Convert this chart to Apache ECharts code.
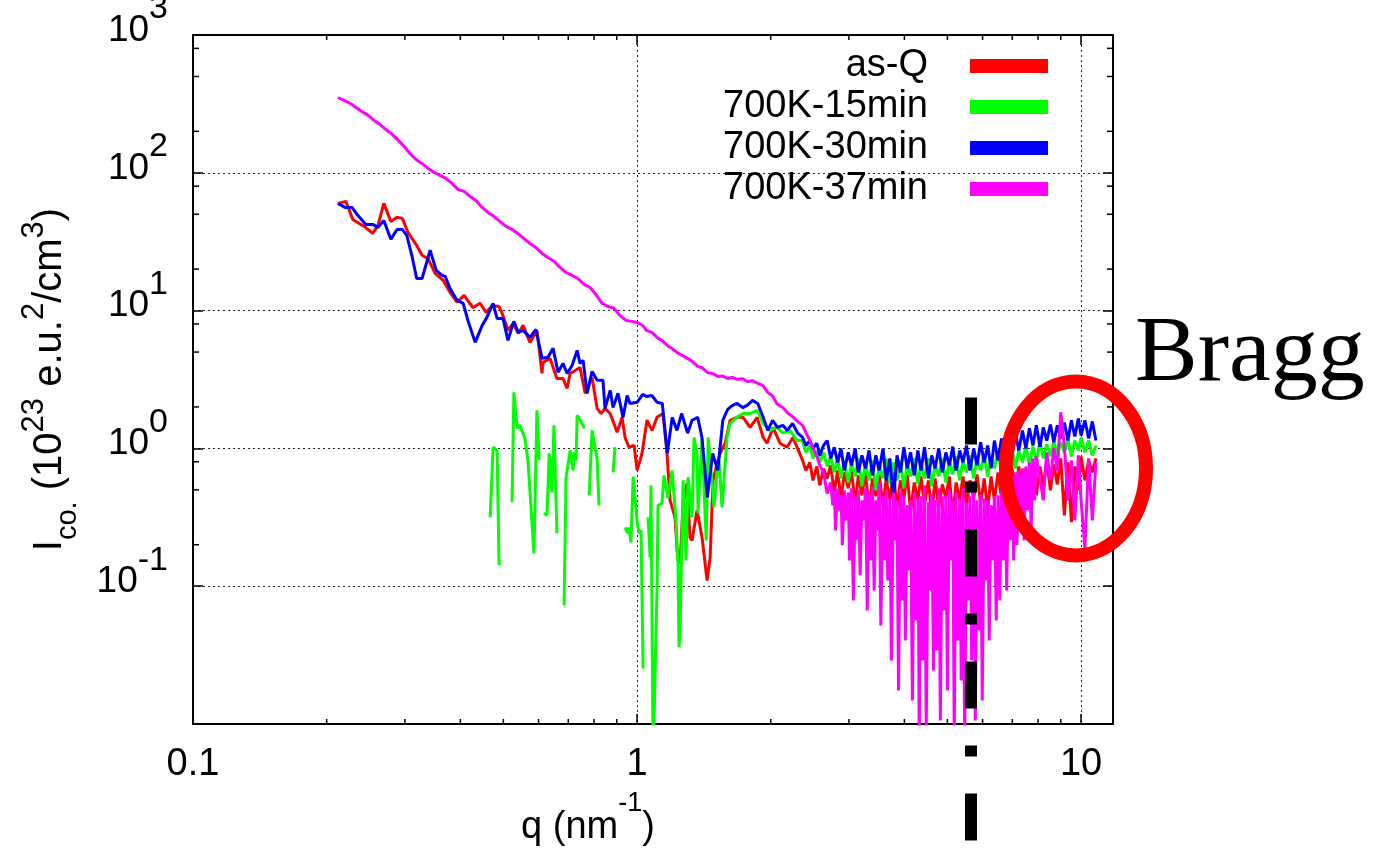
<!DOCTYPE html>
<html>
<head>
<meta charset="utf-8">
<script src="https://cdn.jsdelivr.net/npm/echarts@6/dist/echarts.min.js"></script>
<style>
  html, body { margin: 0; padding: 0; background: #ffffff; }
  #chart { width: 1381px; height: 855px; }
</style>
</head>
<body>
<div id="chart"></div>
<script>
// ---- series names and colours ----
const seriesNames = ['as-Q', '700K-15min', '700K-30min', '700K-37min'];
const seriesColors = ['#ff0000', '#00ff00', '#0000ff', '#ff00ff'];

// ---- axis ticks ----
const xMinorTicks = [0.2, 0.3, 0.4, 0.5, 0.6, 0.7, 0.8, 0.9, 2, 3, 4, 5, 6, 7, 8, 9];
const yMinorTicks = [0.2, 0.5, 0.8, 2, 5, 8, 20, 50, 80, 200, 500, 800];

// ---- shared dense q grid at large q (nm^-1) ----
const qDense = [2.36, 2.40, 2.45, 2.49, 2.54, 2.58, 2.63, 2.68, 2.73, 2.78, 2.83, 2.88, 2.93, 2.99, 3.04, 3.10, 3.15, 3.21, 3.27, 3.33,
  3.39, 3.45, 3.51, 3.58, 3.64, 3.71, 3.78, 3.85, 3.92, 3.99, 4.06, 4.13, 4.21, 4.29, 4.36, 4.44, 4.53, 4.61, 4.69, 4.78,
  4.87, 4.96, 5.05, 5.14, 5.23, 5.33, 5.42, 5.52, 5.62, 5.73, 5.83, 5.94, 6.05, 6.16, 6.27, 6.38, 6.50, 6.62, 6.74, 6.86,
  6.99, 7.11, 7.24, 7.38, 7.51, 7.65, 7.79, 7.93, 8.08, 8.22, 8.37, 8.53, 8.68, 8.84, 9.00, 9.17, 9.34, 9.51, 9.68, 9.86,
  10.0, 10.2, 10.4, 10.6, 10.8];

// ---- as-Q ----
const qAsQ = [0.212, 0.221, 0.229, 0.243, 0.254, 0.261, 0.269, 0.279, 0.288, 0.296, 0.305, 0.319, 0.328, 0.338, 0.351, 0.366, 0.379, 0.393, 0.408, 0.427,
  0.443, 0.457, 0.472, 0.489, 0.497, 0.512, 0.526, 0.540, 0.554, 0.574, 0.595, 0.611, 0.614, 0.637, 0.660, 0.681, 0.696, 0.707, 0.744, 0.764,
  0.792, 0.813, 0.830, 0.847, 0.870, 0.902, 0.925, 0.940, 0.959, 0.985, 1.000, 1.016, 1.026, 1.053, 1.081, 1.109, 1.144, 1.168, 1.187, 1.218,
  1.231, 1.250, 1.270, 1.296, 1.316, 1.330, 1.365, 1.401, 1.438, 1.461, 1.483, 1.515, 1.538, 1.579, 1.620, 1.678, 1.733, 1.797, 1.864, 1.923,
  1.963, 2.025, 2.099, 2.176, 2.245];
const iAsQ = [60.0, 62.0, 45.9, 40.8, 36.3, 41.5, 60.0, 44.4, 47.5, 46.7, 36.9, 29.7, 25.2, 23.9, 18.6, 16.6, 13.6, 11.5, 12.9, 10.5,
  11.3, 9.70, 10.9, 10.7, 9.54, 7.18, 8.07, 6.83, 7.81, 5.88, 7.18, 3.50, 4.21, 4.50, 3.22, 3.22, 2.73, 3.50, 3.87, 2.51,
  3.27, 1.95, 1.79, 1.95, 1.79, 1.31, 1.68, 1.20, 1.02, 1.05, 0.692, 0.818, 0.920, 1.60, 1.35, 1.68, 1.79, 0.920, 0.420, 0.316,
  0.182, 0.146, 0.399, 0.557, 0.226, 0.215, 0.355, 0.226, 0.110, 0.162, 0.586, 0.778, 0.920, 1.09, 1.60, 1.68, 1.68, 1.42, 1.68, 1.20,
  1.09, 1.42, 1.09, 1.02, 1.20];
const iAsQDense = [0.818, 0.692, 0.791, 0.586, 0.740, 0.539, 0.716, 0.606, 0.753, 0.479, 0.692, 0.420, 0.670, 0.513, 0.692, 0.386, 0.637, 0.456, 0.670, 0.355,
  0.606, 0.449, 0.648, 0.386, 0.606, 0.420, 0.670, 0.367, 0.586, 0.434, 0.648, 0.343, 0.566, 0.420, 0.626, 0.386, 0.586, 0.327, 0.606, 0.367,
  0.548, 0.434, 0.626, 0.321, 0.566, 0.420, 0.626, 0.380, 0.586, 0.434, 0.648, 0.393, 0.606, 0.355, 0.626, 0.420, 0.670, 0.434, 0.692, 0.464,
  0.716, 0.479, 0.740, 0.449, 0.716, 0.513, 0.791, 0.456, 0.740, 0.530, 0.818, 0.496, 0.765, 0.548, 0.846, 0.327, 0.791, 0.291, 0.740, 0.496,
  0.875, 0.586, 0.818, 0.670, 0.846];

// ---- 700K-15min (null = no positive value, line broken) ----
const qT15 = [0.467, 0.474, 0.484, 0.489, 0.505, 0.523, 0.528, 0.537, 0.545, 0.559, 0.568, 0.586, 0.595, 0.602, 0.608, 0.617, 0.627, 0.634, 0.643, 0.650,
  0.660, 0.672, 0.685, 0.692, 0.707, 0.718, 0.721, 0.729, 0.733, 0.752, 0.760, 0.770, 0.780, 0.792, 0.813, 0.821, 0.850, 0.883, 0.892, 0.915,
  0.940, 0.954, 0.959, 0.969, 0.980, 1.000, 1.010, 1.021, 1.032, 1.045, 1.059, 1.070, 1.075, 1.087, 1.109, 1.115, 1.138, 1.150, 1.174, 1.199,
  1.224, 1.237, 1.243, 1.250, 1.270, 1.289, 1.303, 1.330, 1.344, 1.365, 1.372, 1.401, 1.431, 1.446, 1.468, 1.491, 1.515, 1.530, 1.554, 1.595,
  1.620, 1.678, 1.733, 1.797, 1.864, 1.923, 1.994, 2.067, 2.132, 2.210, 2.292];
const iT15 = [0.316, 1.02, 0.967, 0.142, null, 0.406, 2.55, 1.40, 1.47, 1.18, 0.818, 0.173, 1.89, 0.818, null, 0.338, 0.327, 0.920, 0.479, 1.47,
  0.242, null, 0.0726, 0.616, 0.967, 0.692, 0.935, 0.818, 1.74, 1.52, 1.40, null, 0.456, 1.35, 0.846, 0.386, null, 0.670, 1.02, null,
  0.267, 0.242, 0.267, 0.208, 0.626, 0.300, 0.242, 0.254, 0.0253, null, 0.316, 0.162, 0.539, 0.00544, 0.0932, 0.386, 0.399, 0.637, 0.434, 0.692,
  0.300, 0.137, 0.0360, 0.0502, 0.586, 0.154, 0.616, 0.316, 1.20, 0.920, 0.338, 1.20, 0.215, 1.20, 0.692, 0.373, 0.692, 0.818, 0.373, 1.20,
  1.52, 1.68, 1.79, 1.79, 1.89, 1.52, 1.35, 1.42, 1.29, 1.35, 1.14];
const iT15Dense = [1.14, 0.935, 1.05, 0.846, 0.967, 0.791, 0.935, 0.740, 0.875, 0.670, 0.846, 0.606, 0.818, 0.566, 0.791, 0.626, 0.846, 0.530, 0.791, 0.586,
  0.818, 0.496, 0.753, 0.606, 0.846, 0.548, 0.791, 0.586, 0.818, 0.513, 0.778, 0.626, 0.846, 0.548, 0.791, 0.606, 0.846, 0.530, 0.765, 0.626,
  0.846, 0.566, 0.818, 0.648, 0.875, 0.586, 0.818, 0.670, 0.890, 0.606, 0.846, 0.692, 0.905, 0.626, 0.875, 0.716, 0.967, 0.670, 0.935, 0.753,
  1.00, 0.716, 0.967, 0.791, 1.05, 0.753, 1.03, 0.818, 1.11, 0.846, 1.07, 0.875, 1.14, 0.890, 1.11, 0.935, 1.18, 0.875, 1.14, 0.967,
  1.20, 0.935, 1.14, 0.890, 1.05];

// ---- 700K-30min ----
const qT30Low = [0.212, 0.220, 0.228, 0.235, 0.245, 0.254, 0.261, 0.269, 0.279, 0.288, 0.296, 0.303, 0.311, 0.319, 0.328, 0.342, 0.353, 0.364, 0.370, 0.379,
  0.393, 0.406, 0.416, 0.432, 0.448, 0.459, 0.474, 0.484, 0.499, 0.512, 0.528, 0.540, 0.554, 0.574, 0.592, 0.611, 0.630, 0.647, 0.664, 0.681,
  0.696, 0.714, 0.733, 0.744, 0.756, 0.772, 0.792, 0.813, 0.838, 0.847, 0.870, 0.883, 0.906, 0.930, 0.950, 0.964];
const iT30Low = [60.0, 56.1, 56.1, 49.1, 42.2, 42.2, 40.2, 45.1, 32.9, 38.8, 38.8, 35.1, 25.2, 17.1, 17.1, 27.4, 19.6, 18.0, 17.7, 14.5,
  11.9, 11.3, 8.49, 5.88, 7.81, 8.93, 11.3, 8.78, 8.78, 6.08, 8.35, 6.95, 7.18, 6.39, 7.30, 4.50, 4.58, 5.32, 3.56, 4.14,
  3.50, 4.00, 5.14, 4.14, 4.35, 2.51, 3.62, 3.12, 3.12, 1.95, 2.64, 1.98, 2.51, 1.68, 2.42, 2.12];
const qMid = [1.00, 1.03, 1.05, 1.08, 1.11, 1.14, 1.17, 1.20, 1.23, 1.26, 1.30, 1.33, 1.37, 1.40, 1.44, 1.48, 1.52, 1.56, 1.60, 1.64,
  1.68, 1.73, 1.77, 1.82, 1.87, 1.92, 1.97, 2.02, 2.07, 2.13, 2.18, 2.24, 2.30];
const iT30Mid = [2.16, 2.47, 2.38, 2.42, 2.16, 2.12, 0.920, 1.68, 1.35, 1.79, 1.29, 1.60, 1.68, 1.20, 0.441, 0.920, 0.692, 1.60, 1.92, 2.05,
  2.12, 1.98, 2.05, 2.23, 2.12, 1.71, 1.35, 1.60, 1.42, 1.47, 1.35, 1.52, 1.29];
const iT30Dense = [1.20, 1.05, 1.14, 1.00, 1.09, 0.890, 1.05, 1.14, 0.846, 1.02, 0.791, 1.00, 0.692, 0.935, 0.753, 1.00, 0.670, 0.890, 0.716, 0.967,
  0.637, 0.890, 0.692, 1.00, 0.586, 0.846, 0.420, 0.890, 0.670, 1.02, 0.716, 0.935, 0.637, 0.967, 0.692, 1.02, 0.606, 0.890, 0.716, 1.00,
  0.670, 0.935, 0.753, 1.03, 0.692, 0.967, 0.791, 1.05, 0.692, 1.00, 0.753, 1.11, 0.791, 1.05, 0.716, 1.14, 0.818, 1.18, 0.890, 1.22,
  0.935, 1.31, 0.967, 1.35, 1.00, 1.40, 1.05, 1.47, 1.03, 1.42, 1.14, 1.49, 1.11, 1.47, 1.18, 1.54, 1.14, 1.60, 1.22, 1.65,
  1.24, 1.60, 1.18, 1.57, 1.14];

// ---- 700K-37min ----
const qT37Low = [0.212, 0.219, 0.226, 0.233, 0.240, 0.248, 0.256, 0.264, 0.272, 0.281, 0.290, 0.299, 0.308, 0.318, 0.328, 0.338, 0.349, 0.360, 0.371, 0.383,
  0.395, 0.408, 0.421, 0.434, 0.448, 0.462, 0.476, 0.491, 0.507, 0.523, 0.539, 0.556, 0.574, 0.592, 0.611, 0.630, 0.650, 0.671, 0.692, 0.714,
  0.736, 0.760, 0.784, 0.808, 0.834, 0.860, 0.887, 0.915, 0.944, 0.974];
const iT37Low = [352, 335, 319, 298, 279, 261, 240, 224, 206, 190, 172, 155, 138, 125, 117, 108, 101, 95.7, 91.1, 83.8,
  75.8, 73.3, 67.4, 63.0, 56.1, 51.6, 48.3, 44.4, 40.8, 38.8, 36.3, 33.4, 30.7, 28.7, 26.0, 24.3, 22.8, 20.6, 18.9, 18.0,
  17.1, 15.5, 14.7, 13.1, 11.3, 10.7, 10.4, 9.23, 8.49, 8.35];
const iT37Mid = [8.21, 7.80, 7.18, 6.95, 6.39, 6.05, 5.59, 5.30, 4.97, 4.75, 4.50, 4.30, 3.94, 3.85, 3.56, 3.50, 3.33, 3.35, 3.22, 3.28,
  3.17, 3.20, 3.06, 3.10, 2.96, 2.87, 2.55, 2.40, 2.09, 1.98, 1.82, 1.70, 1.57];
const qT37Dense = [2.36, 2.40, 2.45, 2.49, 2.54, 2.58, 2.63, 2.68,
  2.73, 2.76, 2.78, 2.80, 2.83, 2.85, 2.88, 2.90, 2.93, 2.96, 2.99, 3.01, 3.04, 3.07, 3.10, 3.12, 3.15, 3.18, 3.21, 3.24,
  3.27, 3.30, 3.33, 3.36, 3.39, 3.42, 3.45, 3.48, 3.51, 3.54, 3.58, 3.61, 3.64, 3.67, 3.71, 3.74, 3.78, 3.81, 3.85, 3.88,
  3.92, 3.95, 3.99, 4.02, 4.06, 4.09, 4.13, 4.17, 4.21, 4.25, 4.29, 4.32, 4.36, 4.40, 4.44, 4.48, 4.53, 4.57, 4.61, 4.65,
  4.69, 4.73, 4.78, 4.82, 4.87, 4.91, 4.96, 5.00, 5.05, 5.09, 5.14, 5.18, 5.23, 5.28, 5.33, 5.37, 5.42, 5.47, 5.52, 5.57,
  5.62, 5.67, 5.73, 5.78, 5.83, 5.88, 5.94, 5.99, 6.05, 6.10, 6.16, 6.21, 6.27, 6.32, 6.38, 6.44, 6.50, 6.56, 6.62, 6.68,
  6.74, 6.80, 6.86, 6.92, 6.99, 7.05, 7.11, 7.17, 7.24, 7.31, 7.38, 7.44, 7.51, 7.58, 7.65, 7.72, 7.79, 7.86, 7.93,
  8.08, 8.22, 8.37, 8.53, 8.68, 8.84, 9.00, 9.17, 9.34, 9.51, 9.68, 9.86, 10.0, 10.2, 10.4, 10.6, 10.8];
const iT37Dense = [1.47, 1.31, 1.14, 1.00, 0.875, 0.753, 0.670, 0.471,
  0.566, 0.386, 0.496, 0.254, 0.513, 0.355, 0.456, 0.198, 0.496, 0.300, 0.479, 0.154,
  0.513, 0.0789, 0.441, 0.215, 0.496, 0.120, 0.420, 0.300, 0.513, 0.0667, 0.464, 0.154, 0.530, 0.0932, 0.420, 0.254, 0.566,
  0.0519, 0.449, 0.154, 0.496, 0.110, 0.434, 0.0289, 0.479, 0.215, 0.420, 0.0175, 0.513, 0.0789, 0.456, 0.0404, 0.386, 0.130,
  0.420, 0.0148, 0.479, 0.0565, 0.434, 0.0076, 0.449, 0.0289, 0.539, 0.0090, 0.406, 0.0932, 0.464, 0.0245, 0.420, 0.0342, 0.513, 0.0106, 0.449, 0.0667,
  0.456, 0.0175, 0.496, 0.154, 0.420, 0.0083, 0.479, 0.0404, 0.434, 0.0207, 0.513, 0.0070, 0.406, 0.0789, 0.449, 0.0289, 0.496, 0.0106, 0.420, 0.0478,
  0.464, 0.0148, 0.434, 0.110, 0.420, 0.0404, 0.386, 0.154, 0.449, 0.0565, 0.456, 0.0789, 0.496, 0.154, 0.548, 0.0932, 0.586, 0.215, 0.626, 0.154,
  0.670, 0.198, 0.692, 0.300, 0.716, 0.215, 0.740, 0.355, 0.791, 0.254, 0.846, 0.420, 0.875,
  0.606, 0.420, 0.935, 0.586, 1.00, 0.692, 1.83, 1.05, 0.420, 0.818, 0.300, 0.890, 0.420, 0.188, 0.846, 0.300, 0.791];

// ---- annotations (data units) ----
const markerQ = 5.65;            // dash-dot vertical marker
const markerTopI = 2.34;
const markerBottomI = 0.0014;
const braggCenter = [9.74, 0.716]; // centre of the Bragg ellipse
const braggLabel = 'Bragg';

// ---- build series data ----
function pairs(q, I) {
  return q.map((v, i) => [v, I[i] == null ? '-' : I[i]]);
}
const seriesData = [
  pairs(qAsQ.concat(qDense), iAsQ.concat(iAsQDense)),
  pairs(qT15.concat(qDense), iT15.concat(iT15Dense)),
  pairs(qT30Low.concat(qMid, qDense), iT30Low.concat(iT30Mid, iT30Dense)),
  pairs(qT37Low.concat(qMid, qT37Dense), iT37Low.concat(iT37Mid, iT37Dense))
];

const FONT = '"Liberation Sans", Arial, Helvetica, sans-serif';
const BLACK = '#000000';

function isDecade(v) {
  const e = Math.log10(v);
  return Math.abs(e - Math.round(e)) < 1e-6;
}

const chart = echarts.init(document.getElementById('chart'), null, { renderer: 'canvas' });

const lineSeries = seriesNames.map((name, i) => ({
  type: 'line',
  name: name,
  data: seriesData[i],
  xAxisIndex: 0,
  yAxisIndex: 0,
  symbol: 'none',
  showSymbol: false,
  connectNulls: false,
  clip: true,
  lineStyle: { width: 3, color: seriesColors[i] },
  itemStyle: { color: seriesColors[i] },
  emphasis: { disabled: true },
  z: 2
}));

const minorX = {
  type: 'custom',
  name: 'minor-x',
  xAxisIndex: 0,
  yAxisIndex: 0,
  silent: true,
  z: 4,
  data: xMinorTicks.map(v => [v, 1]),
  renderItem: function (params, api) {
    const x = api.coord([api.value(0), 1])[0];
    const cs = params.coordSys;
    const yb = cs.y + cs.height, yt = cs.y;
    return {
      type: 'group',
      children: [
        { type: 'line', shape: { x1: x, y1: yb, x2: x, y2: yb - 5 }, style: { stroke: BLACK, lineWidth: 1.5 } },
        { type: 'line', shape: { x1: x, y1: yt, x2: x, y2: yt + 5 }, style: { stroke: BLACK, lineWidth: 1.5 } }
      ]
    };
  }
};
const minorY = {
  type: 'custom',
  name: 'minor-y',
  xAxisIndex: 0,
  yAxisIndex: 0,
  silent: true,
  z: 4,
  data: yMinorTicks.map(v => [1, v]),
  renderItem: function (params, api) {
    const y = api.coord([1, api.value(1)])[1];
    const cs = params.coordSys;
    const xl = cs.x, xr = cs.x + cs.width;
    return {
      type: 'group',
      children: [
        { type: 'line', shape: { x1: xl, y1: y, x2: xl + 6, y2: y }, style: { stroke: BLACK, lineWidth: 1.5 } },
        { type: 'line', shape: { x1: xr, y1: y, x2: xr - 6, y2: y }, style: { stroke: BLACK, lineWidth: 1.5 } }
      ]
    };
  }
};

const axisLineStyle = { show: true, onZero: false, lineStyle: { color: BLACK, width: 2 } };
const majorTick = { show: true, inside: true, length: 10, lineStyle: { color: BLACK, width: 1.5 } };
const gridDots = { show: true, lineStyle: { color: '#222222', width: 1, type: [2, 3] } };

const option = {
  animation: false,
  backgroundColor: '#ffffff',
  grid: { left: 193, top: 35, width: 920, height: 689, containLabel: false, outerBoundsMode: 'none' },
  legend: {
    data: seriesNames,
    orient: 'vertical',
    right: 333,
    top: 47,
    align: 'right',
    icon: 'rect',
    itemWidth: 78,
    itemHeight: 14,
    itemGap: 3,
    padding: 0,
    selectedMode: false,
    textStyle: { fontSize: 38, fontFamily: FONT, color: BLACK, lineHeight: 38, padding: [0, 37, 0, 0] }
  },
  xAxis: [
    {
      type: 'log', logBase: 10, min: 0.1, max: 11.8, position: 'bottom',
      axisLine: axisLineStyle, axisTick: majorTick, splitLine: gridDots,
      axisLabel: {
        margin: 21, fontSize: 38, fontFamily: FONT, color: BLACK, lineHeight: 40,
        formatter: v => isDecade(v) ? String(Number(v.toPrecision(3))) : ''
      },
      name: '{m|q (nm}{s|-1}{m|)}',
      nameLocation: 'middle',
      nameGap: 69,
      nameTextStyle: {
        padding: [0, 130, 0, 0],
        rich: {
          m: { fontSize: 38, lineHeight: 40, fontFamily: FONT, color: BLACK, verticalAlign: 'bottom' },
          s: { fontSize: 27, lineHeight: 27, fontFamily: FONT, color: BLACK, verticalAlign: 'bottom', padding: [0, 0, 30, 0] }
        }
      }
    },
    {
      type: 'log', logBase: 10, min: 0.1, max: 11.8, position: 'top',
      axisLine: axisLineStyle, axisTick: majorTick, splitLine: { show: false },
      axisLabel: { show: false }
    }
  ],
  yAxis: [
    {
      type: 'log', logBase: 10, min: 0.01, max: 1000, position: 'left',
      axisLine: axisLineStyle, axisTick: majorTick, splitLine: gridDots,
      axisLabel: {
        margin: 25,
        formatter: function (v) {
          if (!isDecade(v)) return '';
          const e = Math.round(Math.log10(v));
          if (e <= -2) return '';
          return '{b|10}{s|' + e + '}';
        },
        rich: {
          b: { fontSize: 37, lineHeight: 40, fontFamily: FONT, color: BLACK, verticalAlign: 'bottom', padding: [0, 0, 6, 0] },
          s: { fontSize: 34, lineHeight: 34, fontFamily: FONT, color: BLACK, verticalAlign: 'bottom', padding: [0, 0, 29, 0] }
        }
      },
      name: '{m|I}{sub|co.}{m| (10}{sup|23}{m| e.u.}{sup|2}{m|/cm}{sup|3}{m|)}',
      nameLocation: 'middle',
      nameRotate: 90,
      nameGap: 111,
      nameTextStyle: {
        rich: {
          m: { fontSize: 40, lineHeight: 42, fontFamily: FONT, color: BLACK, verticalAlign: 'bottom', padding: [0, 0, 12, 0] },
          sub: { fontSize: 29, lineHeight: 29, fontFamily: FONT, color: BLACK, verticalAlign: 'bottom' },
          sup: { fontSize: 31, lineHeight: 31, fontFamily: FONT, color: BLACK, verticalAlign: 'bottom', padding: [0, 0, 32, 0] }
        }
      }
    },
    {
      type: 'log', logBase: 10, min: 0.01, max: 1000, position: 'right',
      axisLine: axisLineStyle, axisTick: majorTick, splitLine: { show: false },
      axisLabel: { show: false }
    }
  ],
  series: lineSeries.concat([minorX, minorY])
};

chart.setOption(option);

// annotations placed through the axes' own scales
const mTop = chart.convertToPixel({ gridIndex: 0 }, [markerQ, markerTopI]);
const mBottom = chart.convertToPixel({ gridIndex: 0 }, [markerQ, markerBottomI]);
const eC = chart.convertToPixel({ gridIndex: 0 }, braggCenter);

chart.setOption({
  graphic: [
    {
      type: 'line', z: 100, silent: true,
      shape: { x1: mTop[0], y1: mTop[1], x2: mBottom[0], y2: mBottom[1] },
      style: { stroke: BLACK, lineWidth: 12, lineDash: [47, 37, 11, 37], lineCap: 'butt' }
    },
    {
      type: 'ellipse', z: 101, silent: true,
      shape: { cx: eC[0], cy: eC[1], rx: 70, ry: 87 },
      style: { fill: 'none', stroke: '#ff0000', lineWidth: 14 }
    },
    {
      type: 'text', z: 102, silent: true,
      x: 1135, y: 355,
      style: { text: braggLabel, fontSize: 94, fontFamily: '"Liberation Serif", "Times New Roman", serif', fill: BLACK, align: 'left', verticalAlign: 'middle' }
    }
  ]
});
</script>
</body>
</html>
